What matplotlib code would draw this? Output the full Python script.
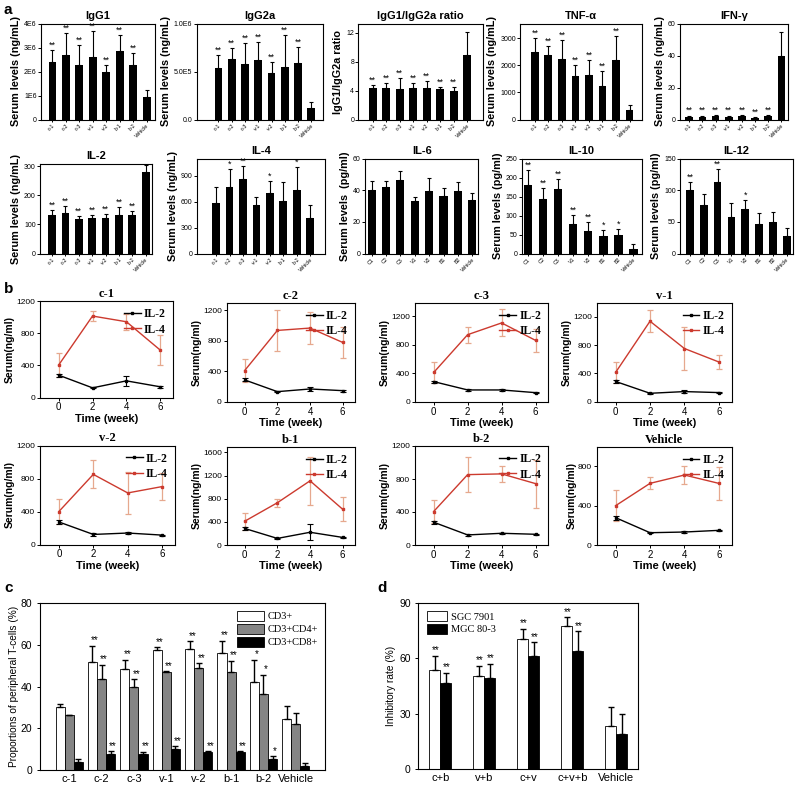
"""
plot.py
Cytokine / T-cell multi-panel figure (a-d)
"""

import numpy as np
import matplotlib
matplotlib.use("Agg")
import matplotlib.pyplot as plt
from matplotlib.patches import Patch

# ==========================
# 1. Data
# ==========================

GROUPS = ["c-1", "c-2", "c-3", "v-1", "v-2", "b-1", "b-2", "Vehicle"]
GROUPS_CAP = ["C1", "C2", "C3", "V1", "V2", "B1", "B2", "Vehicle"]

# panel a, row 1
igg1_mean = [2.38e6, 2.69e6, 2.27e6, 2.62e6, 1.96e6, 2.87e6, 2.28e6, 0.92e6]
igg1_sd = [0.53e6, 0.92e6, 0.85e6, 1.06e6, 0.32e6, 0.67e6, 0.49e6, 0.31e6]
igg1_stars = ["**"] * 7 + [""]

igg2a_mean = [0.54e6, 0.63e6, 0.58e6, 0.62e6, 0.48e6, 0.55e6, 0.59e6, 0.12e6]
igg2a_sd = [0.13e6, 0.115e6, 0.22e6, 0.19e6, 0.12e6, 0.33e6, 0.17e6, 0.065e6]
igg2a_stars = ["**"] * 7 + [""]

ratio_mean = [4.4, 4.3, 4.2, 4.3, 4.4, 4.2, 4.0, 9.0]
ratio_sd = [0.4, 0.8, 1.6, 0.8, 0.9, 0.35, 0.45, 3.1]
ratio_stars = ["**"] * 7 + [""]

tnf_mean = [2490, 2380, 2230, 1610, 1660, 1240, 2205, 350]
tnf_sd = [520, 350, 695, 410, 545, 570, 870, 170]
tnf_stars = ["**"] * 7 + [""]

ifn_mean = [1.5, 1.5, 2.0, 1.5, 2.0, 1.0, 2.0, 39.4]
ifn_sd = [1.0, 1.0, 1.0, 1.0, 1.0, 0.8, 1.0, 15.6]
ifn_stars = ["**"] * 7 + [""]

# panel a, row 2
il2_mean = [133, 140, 119, 122, 124, 134, 133, 281]
il2_sd = [17, 25, 9, 12, 12, 25, 15, 24]
il2_stars = ["**"] * 7 + [""]

il4_mean = [586, 774, 862, 559, 701, 613, 739, 414]
il4_sd = [180, 203, 153, 92, 142, 211, 257, 145]
il4_stars = ["", "*", "**", "", "*", "", "*", ""]

il6_mean = [40, 42, 46.3, 33.3, 39.6, 36.6, 39.6, 33.7]
il6_sd = [5.7, 3.7, 5.7, 2.5, 8.4, 4.9, 5.4, 4.2]
il6_stars = [""] * 8

il10_mean = [180, 143, 171, 77, 59, 45, 50, 12]
il10_sd = [39, 30, 26, 24, 23, 18, 14, 14]
il10_stars = ["**", "**", "**", "**", "**", "*", "*", ""]

il12_mean = [100, 76, 113, 57, 70.5, 46, 49.5, 27]
il12_sd = [13, 18, 21, 23, 13.5, 18, 15.5, 14]
il12_stars = ["**", "", "**", "", "*", "", "", ""]

# panel b (time course)
WEEKS = [0, 2, 4, 6]
B_TITLES = ["c-1", "c-2", "c-3", "v-1", "v-2", "b-1", "b-2", "Vehicle"]

b_il2_mean = [
    [278, 120, 207, 133],
    [286, 132, 167, 145],
    [282, 165, 165, 127],
    [286, 119, 143, 129],
    [273, 122, 139, 114],
    [286, 114, 220, 131],
    [276, 122, 142, 130],
    [278, 125, 132, 149],
]
b_il2_sd = [
    [20, 8, 60, 10],
    [20, 8, 30, 15],
    [15, 8, 10, 8],
    [20, 8, 20, 10],
    [20, 15, 10, 6],
    [20, 8, 140, 15],
    [20, 8, 8, 8],
    [20, 6, 6, 6],
]
b_il4_mean = [
    [403, 1013, 942, 589],
    [409, 936, 967, 778],
    [410, 941, 1106, 861],
    [414, 1138, 752, 562],
    [400, 850, 625, 702],
    [411, 731, 1110, 617],
    [406, 853, 862, 744],
    [400, 627, 712, 627],
]
b_il4_sd = [
    [150, 65, 100, 185],
    [150, 265, 215, 205],
    [145, 110, 190, 160],
    [150, 155, 300, 95],
    [150, 170, 250, 160],
    [150, 70, 420, 210],
    [145, 210, 95, 290],
    [155, 60, 90, 170],
]
b_ymax = [1200, 1300, 1390, 1400, 1200, 1700, 1200, 1000]
b_yticks = [
    [0, 400, 800, 1200],
    [0, 400, 800, 1200],
    [0, 400, 800, 1200],
    [0, 400, 800, 1200],
    [0, 400, 800, 1200],
    [0, 400, 800, 1200, 1600],
    [0, 400, 800, 1200],
    [0, 400, 800],
]

# panel c
cd3_mean = [30.3, 52, 48.5, 57.5, 58, 56, 42, 24.4]
cd3_sd = [1.6, 7.7, 4.4, 1.5, 3.7, 6, 11, 6.1]
cd4_mean = [26.2, 43.7, 40, 47, 48.9, 46.8, 36.5, 22]
cd4_sd = [0.4, 6.8, 3.6, 0.3, 2.4, 5.7, 9.1, 5.3]
cd8_mean = [3.9, 7.5, 7.5, 10, 8.7, 8.5, 5.1, 2]
cd8_sd = [1.4, 1.5, 1.2, 1.5, 0.4, 0.4, 1.6, 1.2]
c_stars = ["", "**", "**", "**", "**", "**", "*", ""]

# panel d
D_GROUPS = ["c+b", "v+b", "c+v", "c+v+b", "Vehicle"]
sgc_mean = [53.4, 50.3, 70.2, 77.3, 23.2]
sgc_sd = [8, 5.5, 5.8, 4.9, 10.4]
mgc_mean = [46.7, 49.5, 61, 63.7, 18.9]
mgc_sd = [5.3, 7.5, 7.6, 10.8, 11.1]
d_stars = ["**", "**", "**", "**", ""]


# ==========================
# 2. Style
# ==========================

W, H = 800, 786
SANS = ["Liberation Sans", "DejaVu Sans"]
SERIF = ["Liberation Serif", "DejaVu Serif"]
RED = "#cc3a2e"
RED_ERR = "#e6a88e"

plt.rcParams["font.family"] = SANS
plt.rcParams["axes.linewidth"] = 0.8
plt.rcParams["xtick.major.width"] = 0.7
plt.rcParams["ytick.major.width"] = 0.7
plt.rcParams["xtick.major.size"] = 2
plt.rcParams["ytick.major.size"] = 2


def px_axes(fig, x0, y0, x1, y1):
    """axes from pixel box (top-left origin)"""
    return fig.add_axes([x0 / W, 1 - y1 / H, (x1 - x0) / W, (y1 - y0) / H])


# ==========================
# 3. Panel a
# ==========================

def bar_panel(fig, box, title, ylabel, mean, sd, stars, labels,
              ymax, yticks, yticklabels, xlim, width=0.58):
    ax = px_axes(fig, *box)
    x = np.arange(len(mean))
    ax.bar(x, mean, width=width, color="black")
    ax.errorbar(x, mean, yerr=[np.zeros(len(sd)), sd], fmt="none",
                ecolor="black", elinewidth=0.8, capsize=1.6, capthick=0.8)
    for xi, m, s, st in zip(x, mean, sd, stars):
        if st:
            ax.text(xi, m + s + ymax * 0.003, st, ha="center", va="bottom",
                    fontsize=6.5)
    ax.set_xlim(*xlim)
    ax.set_ylim(0, ymax)
    ax.set_yticks(yticks)
    ax.set_yticklabels(yticklabels, fontsize=5)
    ax.set_xticks(x)
    ax.set_xticklabels(labels, rotation=45, ha="right",
                       rotation_mode="anchor", fontsize=3.8)
    ax.tick_params(axis="x", length=1.5, pad=1)
    ax.tick_params(axis="y", pad=1)
    ax.set_title(title, fontsize=8, fontweight="bold", pad=3)
    ax.set_ylabel(ylabel, fontsize=7.8, fontweight="bold", labelpad=2)
    return ax


def draw_panel_a(fig):
    ng = "Serum levels (ng/mL)"
    pg = "Serum levels (pg/ml)"
    top1, bot1 = 23.5, 119.5
    top2, bot2 = 158.5, 253.5

    bar_panel(fig, (40.7, top1, 155, bot1), "IgG1", ng,
              igg1_mean, igg1_sd, igg1_stars, GROUPS,
              4e6, [0, 1e6, 2e6, 3e6, 4e6], ["0", "1E6", "2E6", "3E6", "4E6"],
              (-0.87, 7.62))
    bar_panel(fig, (196.5, top1, 323.3, bot1), "IgG2a", ng,
              igg2a_mean, igg2a_sd, igg2a_stars, GROUPS,
              1e6, [0, 5e5, 1e6], ["0.0", "5.0E5", "1.0E6"],
              (-1.65, 7.9))
    bar_panel(fig, (358.3, top1, 483.3, bot1), "IgG1/IgG2a ratio",
              "IgG1/IgG2a ratio",
              ratio_mean, ratio_sd, ratio_stars, GROUPS,
              13.3, [0, 4, 8, 12], ["0", "4", "8", "12"],
              (-1.07, 8.2))
    bar_panel(fig, (520, top1, 641.7, bot1), "TNF-\u03b1", ng,
              tnf_mean, tnf_sd, tnf_stars, GROUPS,
              3550, [0, 1000, 2000, 3000], ["0", "1000", "2000", "3000"],
              (-1.1, 7.9))
    bar_panel(fig, (680, top1, 788, bot1), "IFN-\u03b3", ng,
              ifn_mean, ifn_sd, ifn_stars, GROUPS,
              60, [0, 20, 40, 60], ["0", "20", "40", "60"],
              (-0.7, 7.5))

    bar_panel(fig, (40, 163.5, 151.7, bot2), "IL-2", ng,
              il2_mean, il2_sd, il2_stars, GROUPS,
              310, [0, 100, 200, 300], ["0", "100", "200", "300"],
              (-0.9, 7.45))
    bar_panel(fig, (196.7, top2, 325, bot2), "IL-4", ng,
              il4_mean, il4_sd, il4_stars, GROUPS,
              1100, [0, 300, 600, 900], ["0", "300", "600", "900"],
              (-1.44, 8.1))
    bar_panel(fig, (365, top2, 478.3, bot2), "IL-6", "Serum levels  (pg/ml)",
              il6_mean, il6_sd, il6_stars, GROUPS_CAP,
              60, [0, 20, 40, 60], ["0", "20", "40", "60"],
              (-0.46, 7.42), width=0.56)
    bar_panel(fig, (521.7, top2, 641.7, bot2), "IL-10", pg,
              il10_mean, il10_sd, il10_stars, GROUPS_CAP,
              250, [0, 50, 100, 150, 200, 250],
              ["0", "50", "100", "150", "200", "250"],
              (-0.42, 7.55), width=0.56)
    bar_panel(fig, (680, top2, 793.3, bot2), "IL-12", pg,
              il12_mean, il12_sd, il12_stars, GROUPS_CAP,
              150, [0, 50, 100, 150], ["0", "50", "100", "150"],
              (-0.72, 7.48), width=0.56)


# ==========================
# 4. Panel b
# ==========================

B_BOXES = [
    (40, 301, 173, 397.5),
    (226.7, 302.7, 355, 401.7),
    (415, 302.7, 548.3, 401.7),
    (596.7, 302.7, 731.7, 401.7),
    (40, 445.5, 175, 544.5),
    (226.7, 446.7, 355, 545),
    (415, 446, 548.3, 545),
    (596.7, 446.7, 731.7, 545),
]


def draw_panel_b(fig):
    for i, box in enumerate(B_BOXES):
        ax = px_axes(fig, *box)
        ax.errorbar(WEEKS, b_il4_mean[i], yerr=b_il4_sd[i], fmt="none",
                    ecolor=RED_ERR, elinewidth=0.9, capsize=2, capthick=0.9)
        ax.errorbar(WEEKS, b_il2_mean[i], yerr=b_il2_sd[i], fmt="none",
                    ecolor="black", elinewidth=0.8, capsize=2, capthick=0.8)
        ax.plot(WEEKS, b_il2_mean[i], color="black", lw=1.0, marker="s",
                ms=2.0, label="IL-2")
        ax.plot(WEEKS, b_il4_mean[i], color=RED, lw=1.0, marker="s",
                ms=1.8, label="IL-4")
        ax.set_xlim(-1.1, 6.75)
        ax.set_ylim(0, b_ymax[i])
        ax.set_xticks(WEEKS)
        ax.set_xticklabels([str(w) for w in WEEKS], fontsize=7)
        ax.set_yticks(b_yticks[i])
        ax.set_yticklabels([str(t) for t in b_yticks[i]], fontsize=6)
        ax.tick_params(axis="both", pad=1.5)
        ax.set_title(B_TITLES[i], fontsize=9, fontweight="bold",
                     family=SERIF, pad=3)
        ax.set_xlabel("Time (week)", fontsize=8, fontweight="bold", labelpad=1)
        ax.set_ylabel("Serum(ng/ml)", fontsize=7.5, fontweight="bold",
                      labelpad=1)
        ax.legend(loc="upper right", frameon=False, handlelength=1.4,
                  handletextpad=0.3, labelspacing=0.3, borderaxespad=0.2,
                  prop={"family": SERIF, "weight": "bold", "size": 8.5})


# ==========================
# 5. Panel c
# ==========================

def draw_panel_c(fig):
    ax = px_axes(fig, 40, 603.3, 325, 770)
    x = np.arange(len(GROUPS))
    w = 0.28
    series = [
        (cd3_mean, cd3_sd, "white", "CD3+"),
        (cd4_mean, cd4_sd, "#858585", "CD3+CD4+"),
        (cd8_mean, cd8_sd, "black", "CD3+CD8+"),
    ]
    for k, (mean, sd, col, lab) in enumerate(series):
        xs = x + (k - 1) * w
        ax.bar(xs, mean, width=w, color=col, edgecolor="black", lw=0.6,
               label=lab)
        ax.errorbar(xs, mean, yerr=[np.zeros(len(sd)), sd], fmt="none",
                    ecolor="black", elinewidth=1.0, capsize=2.2, capthick=1.0)
        for xi, m, s, st in zip(xs, mean, sd, c_stars):
            if st:
                ax.text(xi + 0.08, m + s + 0.2, st, ha="center",
                        va="bottom", fontsize=7)
    ax.set_xlim(-0.9, 7.9)
    ax.set_ylim(0, 80)
    ax.set_yticks([0, 20, 40, 60, 80])
    ax.set_yticklabels(["0", "20", "40", "60", "80"], fontsize=7.5)
    ax.set_xticks(x)
    ax.set_xticklabels(GROUPS, fontsize=8)
    ax.tick_params(axis="x", length=0, pad=3)
    ax.set_ylabel("Proportions of peripheral T-cells (%)", fontsize=7.3,
                  labelpad=1)
    handles = [Patch(facecolor=s[2], edgecolor="black", lw=0.6, label=s[3])
               for s in series]
    ax.legend(handles=handles, loc="upper right", frameon=False,
              handlelength=2.6, handleheight=1.1, handletextpad=0.3,
              labelspacing=0.25, borderaxespad=0.3,
              prop={"family": SERIF, "size": 7.5})


# ==========================
# 6. Panel d
# ==========================

def draw_panel_d(fig):
    ax = px_axes(fig, 418.3, 602.7, 638.3, 769)
    x = np.arange(len(D_GROUPS))
    w = 0.25
    series = [
        (sgc_mean, sgc_sd, "white", "SGC 7901"),
        (mgc_mean, mgc_sd, "black", "MGC 80-3"),
    ]
    for k, (mean, sd, col, lab) in enumerate(series):
        xs = x + (k - 0.5) * w
        ax.bar(xs, mean, width=w, color=col, edgecolor="black", lw=0.6,
               label=lab)
        ax.errorbar(xs, mean, yerr=[np.zeros(len(sd)), sd], fmt="none",
                    ecolor="black", elinewidth=1.0, capsize=2.4, capthick=1.0)
        for xi, m, s, st in zip(xs, mean, sd, d_stars):
            if st:
                ax.text(xi + 0.03, m + s + 0.2, st, ha="center",
                        va="bottom", fontsize=7)
    ax.set_xlim(-0.5, 4.5)
    ax.set_ylim(0, 90)
    ax.set_yticks([0, 30, 60, 90])
    ax.set_yticklabels(["0", "30", "60", "90"], fontsize=7.5)
    ax.set_xticks(x)
    ax.set_xticklabels(D_GROUPS, fontsize=8)
    ax.tick_params(axis="x", length=0, pad=3)
    ax.set_ylabel("Inhibitory rate (%)", fontsize=7.3, labelpad=2)
    handles = [Patch(facecolor=s[2], edgecolor="black", lw=0.6, label=s[3])
               for s in series]
    ax.legend(handles=handles, loc="upper left", frameon=False,
              handlelength=2.0, handleheight=1.1, handletextpad=0.3,
              labelspacing=0.2, borderaxespad=0.4,
              prop={"family": SERIF, "size": 7.5})


# ==========================
# 7. Main
# ==========================

def main():
    fig = plt.figure(figsize=(W / 100, H / 100), dpi=100)

    draw_panel_a(fig)
    draw_panel_b(fig)
    draw_panel_c(fig)
    draw_panel_d(fig)

    for lab, px, py in [("a", 4, 10), ("b", 4, 289), ("c", 4, 588),
                        ("d", 377, 588)]:
        fig.text(px / W, 1 - py / H, lab, fontsize=11, fontweight="bold",
                 va="center", ha="left")

    fig.savefig("out.png", dpi=100)
    plt.close(fig)


if __name__ == "__main__":
    main()
